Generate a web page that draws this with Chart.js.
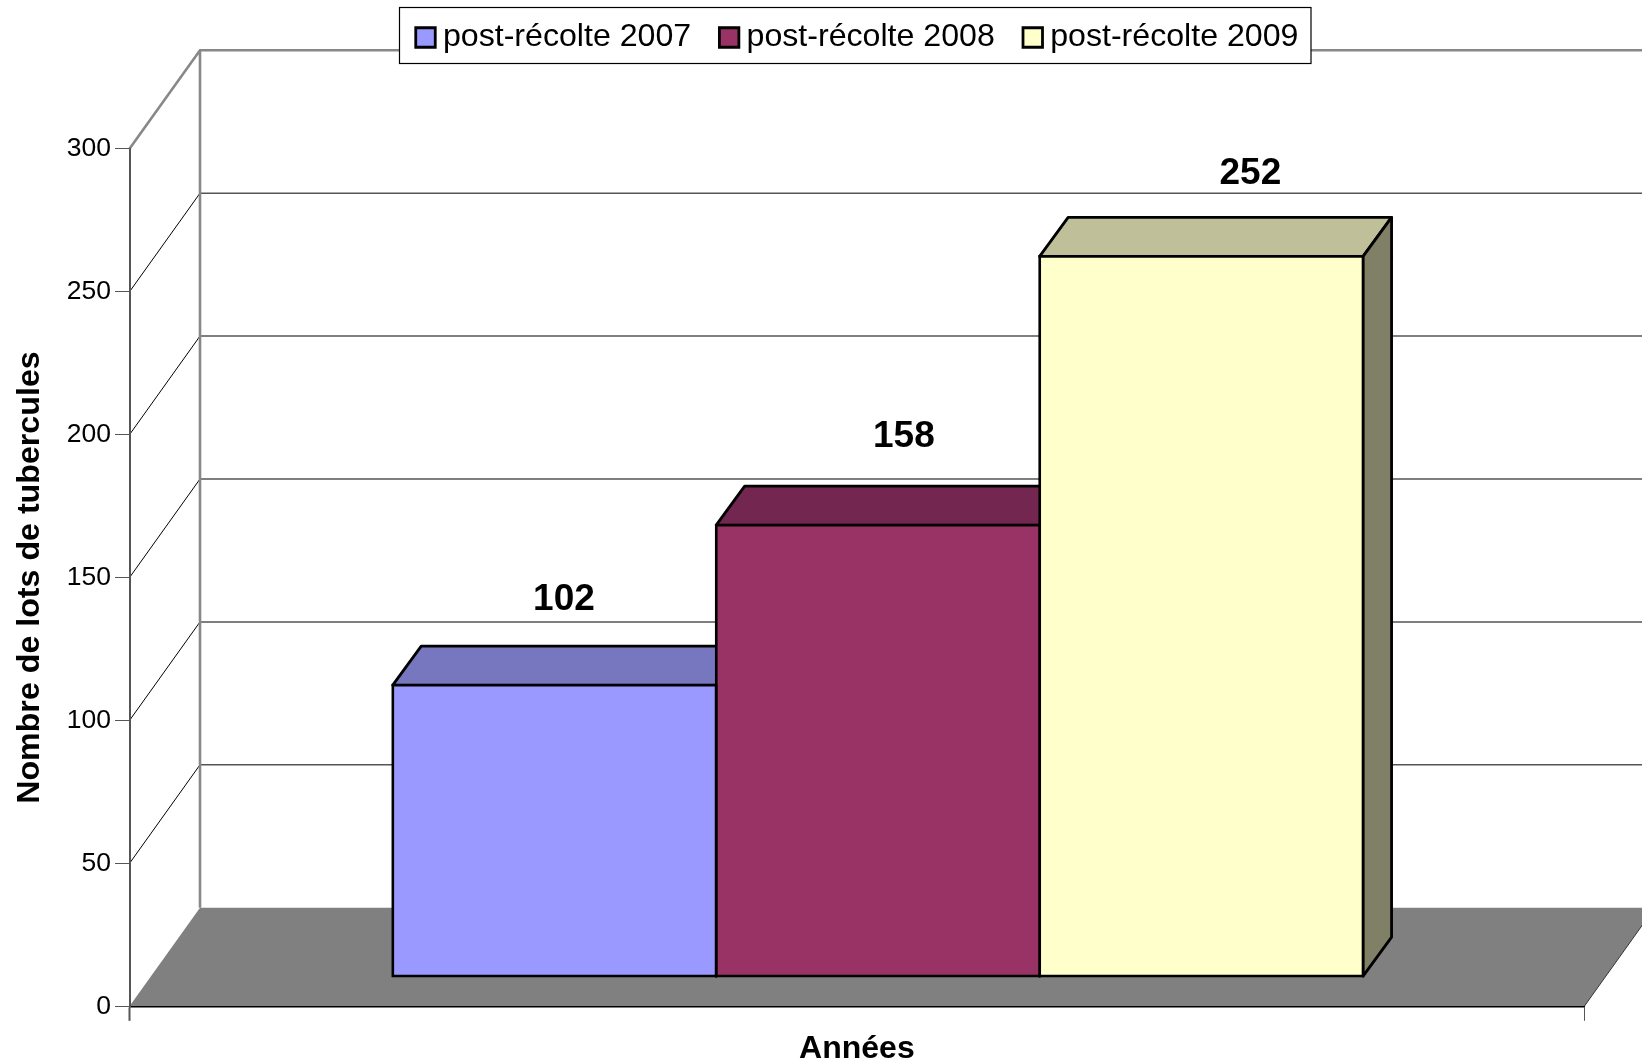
<!DOCTYPE html>
<html>
<head>
<meta charset="utf-8">
<title>Lots de tubercules</title>
<script src="https://cdn.jsdelivr.net/npm/chart.js@4/dist/chart.umd.js"></script>
<style>
    html, body { margin: 0; padding: 0; background: #fff; }
    canvas { display: block; }
</style>
</head>
<body>
<canvas id="chart" width="1642" height="1062"></canvas>
<script>
const categories = [''];
const seriesNames = ['post-récolte 2007', 'post-récolte 2008', 'post-récolte 2009'];
const seriesValues = [[102], [158], [252]];
const seriesColors = ['#9999FF', '#993366', '#FFFFCC'];
const topColors = ['#7777BF', '#732650', '#BFBF99'];
const sideColors = ['#4D4D80', '#4D1A33', '#808066'];

// where the label sits, relative to the front top corner centre of the bar
const labelShiftX = [9.5, 26, 49];
const labelShiftY = [-85.7, -88, -82.9];

const fontName = '"Liberation Sans", Arial, sans-serif';

// 3d look: back wall offset, and bars stand part way into the floor
const wallDx = 70.5;
const wallDy = -98.6;
const barDx = 21;
const barDy = -29.6;
const faceDx = 28.5;
const faceDy = -39;
const barLine = 2.8;

const drawWalls = (chart) => {
    const { ctx, scales, chartArea } = chart;
    const y = scales.y;
    const left = chartArea.left;
    const right = chartArea.right;
    const y0 = y.getPixelForValue(0);

    ctx.save();
    // floor
    ctx.fillStyle = '#808080';
    ctx.beginPath();
    ctx.moveTo(left, y0);
    ctx.lineTo(left + wallDx, y0 + wallDy);
    ctx.lineTo(right + wallDx, y0 + wallDy);
    ctx.lineTo(right, y0);
    ctx.closePath();
    ctx.fill();
    ctx.strokeStyle = '#333';
    ctx.lineWidth = 1;
    ctx.beginPath();
    ctx.moveTo(right, y0);
    ctx.lineTo(right + wallDx, y0 + wallDy);
    ctx.stroke();

    // grid lines, side wall then back wall
    y.ticks.forEach((tick) => {
        if (tick.value === 0 || tick.value === y.max) return;
        const p = y.getPixelForValue(tick.value);
        ctx.strokeStyle = '#000';
        ctx.lineWidth = 1;
        ctx.beginPath();
        ctx.moveTo(left, p);
        ctx.lineTo(left + wallDx, p + wallDy);
        ctx.stroke();
        ctx.strokeStyle = '#555';
        ctx.lineWidth = 1.5;
        ctx.beginPath();
        ctx.moveTo(left + wallDx, p + wallDy);
        ctx.lineTo(right + wallDx, p + wallDy);
        ctx.stroke();
    });

    // wall outline
    const pTop = y.getPixelForValue(y.max);
    ctx.strokeStyle = '#888';
    ctx.lineWidth = 2.6;
    ctx.beginPath();
    ctx.moveTo(left, pTop);
    ctx.lineTo(left + wallDx, pTop + wallDy);
    ctx.lineTo(right + wallDx, pTop + wallDy);
    ctx.moveTo(left + wallDx, pTop + wallDy);
    ctx.lineTo(left + wallDx, y0 + wallDy);
    ctx.stroke();

    // legend frame
    ctx.fillStyle = '#fff';
    ctx.strokeStyle = '#000';
    ctx.lineWidth = 1.2;
    ctx.fillRect(399.5, 7.5, 911.5, 56);
    ctx.strokeRect(399.5, 7.5, 911.5, 56);
    ctx.restore();
};

const drawFaces = (chart) => {
    const ctx = chart.ctx;
    chart.data.datasets.forEach((ds, i) => {
        const bar = chart.getDatasetMeta(i).data[0];
        const l = bar.x - bar.width / 2;
        const r = bar.x + bar.width / 2;
        const t = bar.y;
        const b = bar.base;
        ctx.strokeStyle = '#000';
        ctx.lineWidth = barLine;
        ctx.lineJoin = 'round';
        // top face
        ctx.fillStyle = topColors[i];
        ctx.beginPath();
        ctx.moveTo(l, t);
        ctx.lineTo(l + faceDx, t + faceDy);
        ctx.lineTo(r + faceDx, t + faceDy);
        ctx.lineTo(r, t);
        ctx.closePath();
        ctx.fill();
        ctx.stroke();
        // right face
        ctx.fillStyle = sideColors[i];
        ctx.beginPath();
        ctx.moveTo(r, t);
        ctx.lineTo(r + faceDx, t + faceDy);
        ctx.lineTo(r + faceDx, b + faceDy);
        ctx.lineTo(r, b);
        ctx.closePath();
        ctx.fill();
        ctx.stroke();
    });
};

const depthPlugin = {
    id: 'depth',
    beforeDraw: drawWalls,
    afterLayout: (chart) => {
        // the legend sits over the top edge of the wall, not above the chart
        const padding = chart.legend.options.labels.padding;
        chart.legend.left = 424.2 - padding;
        chart.legend.top = 21.4 - padding;
    },
    beforeDatasetsDraw: (chart) => {
        chart.ctx.save();
        chart.ctx.translate(barDx, barDy);
        drawFaces(chart);
    },
    afterDatasetsDraw: (chart) => {
        const ctx = chart.ctx;
        ctx.restore();
        ctx.save();
        ctx.font = 'bold 37px ' + fontName;
        ctx.fillStyle = '#000';
        ctx.textAlign = 'center';
        ctx.textBaseline = 'middle';
        chart.data.datasets.forEach((ds, i) => {
            const bar = chart.getDatasetMeta(i).data[0];
            ctx.fillText(ds.data[0], bar.x + barDx + labelShiftX[i], bar.y + barDy + labelShiftY[i]);
        });
        ctx.restore();
    }
};

const data = {
    labels: categories,
    datasets: seriesNames.map((name, i) => ({
        label: name,
        data: seriesValues[i],
        backgroundColor: seriesColors[i],
        borderColor: '#000',
        borderWidth: barLine,
        inflateAmount: barLine / 2,
        borderSkipped: false,
        clip: false
    }))
};

const config = {
    type: 'bar',
    data: data,
    plugins: [depthPlugin],
    options: {
        responsive: false,
        animation: false,
        layout: {
            padding: { top: 70.1, right: 57.7, bottom: 0, left: 0 }
        },
        categoryPercentage: 0.667,
        barPercentage: 1,
        plugins: {
            tooltip: { enabled: false },
            legend: {
                position: 'top',
                align: 'start',
                labels: {
                    usePointStyle: true,
                    pointStyle: 'rect',
                    boxWidth: 2.6,
                    boxHeight: 19.5,
                    padding: 36.6,
                    color: '#000',
                    font: { family: fontName, size: 32.15 }
                }
            }
        },
        scales: {
            x: {
                afterFit: (scale) => { scale.height = 55.7; },
                grid: {
                    drawOnChartArea: false,
                    offset: true,
                    tickLength: 14.5,
                    tickColor: '#555',
                    tickWidth: (ctx) => ctx.index === 0 ? 2 : 1
                },
                border: { color: '#000', width: 1.5 },
                ticks: { display: true, color: '#000', font: { family: fontName, size: 26 } },
                title: {
                    display: true,
                    text: 'Années',
                    color: '#000',
                    font: { family: fontName, size: 32, weight: 'bold' },
                    padding: { top: 0, bottom: -6 }
                }
            },
            y: {
                min: 0,
                max: 300,
                afterFit: (scale) => { scale.width = 129.5; },
                grid: {
                    drawOnChartArea: false,
                    tickLength: 14.5,
                    tickColor: '#555',
                    tickWidth: 1
                },
                border: { color: '#555', width: 2 },
                ticks: {
                    stepSize: 50,
                    padding: 4,
                    color: '#000',
                    font: { family: fontName, size: 26.5 }
                },
                title: {
                    display: true,
                    text: 'Nombre de lots de tubercules',
                    color: '#000',
                    font: { family: fontName, size: 32.2, weight: 'bold' },
                    padding: { top: 11, bottom: 0 }
                }
            }
        }
    }
};

const myChart = new Chart(document.getElementById('chart'), config);
</script>
</body>
</html>
